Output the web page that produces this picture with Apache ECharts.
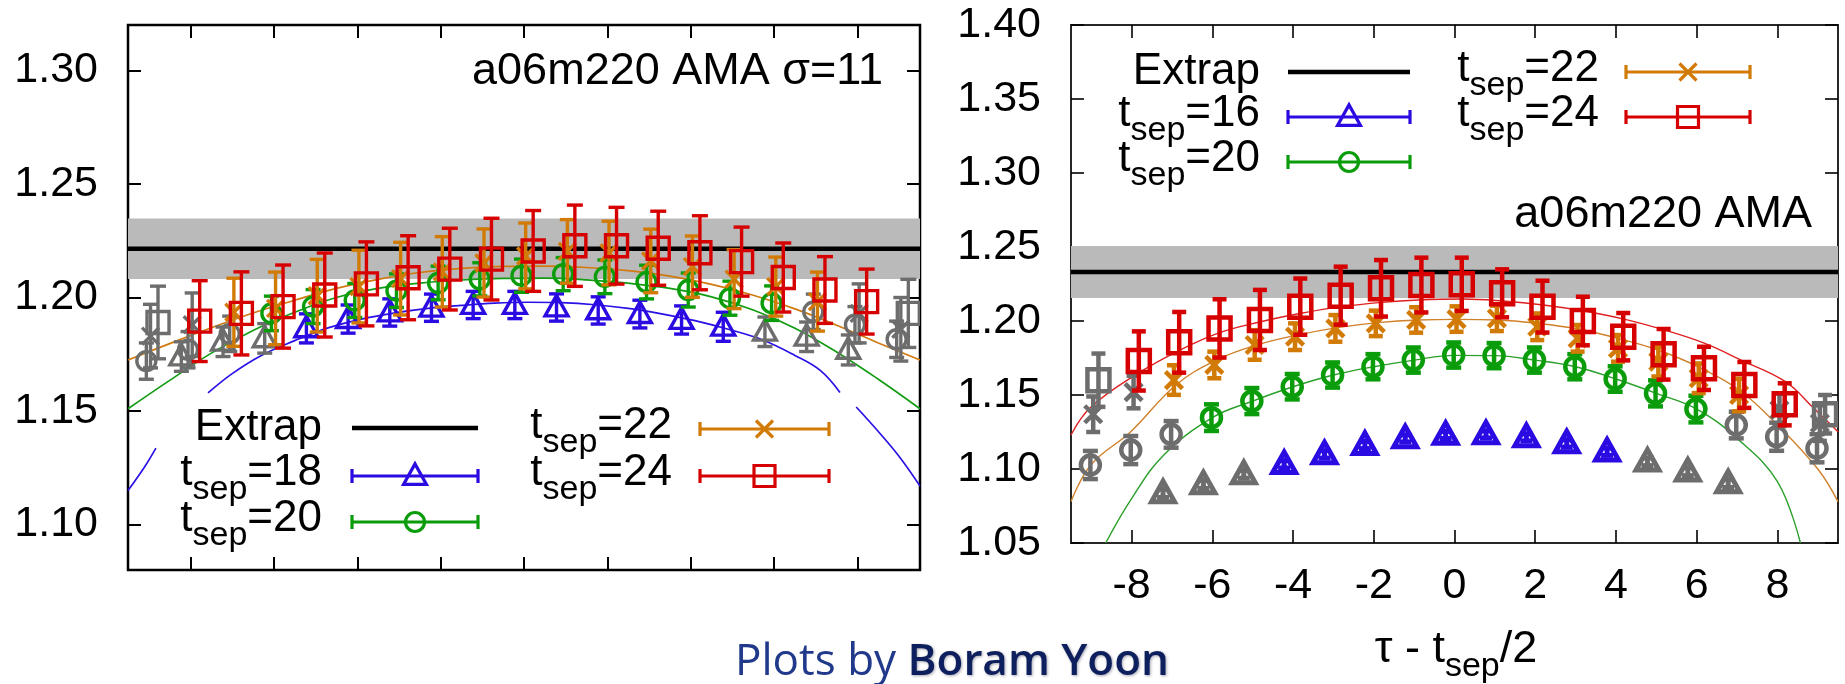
<!DOCTYPE html>
<html>
<head>
<meta charset="utf-8">
<script src="https://cdn.jsdelivr.net/npm/echarts@6/dist/echarts.min.js"></script>
<style>
  html, body { margin: 0; padding: 0; background: #fff; }
  #chart { width: 1845px; height: 684px; }
</style>
</head>
<body>
<div id="chart"></div>
<script>
// ---------------- data ----------------
// x = tau - t_sep/2, y = ratio; points with |tau| <= fit range are coloured, others grey

// left panel: a06m220 AMA sigma=11
const L_ticksX = [-8, -6, -4, -2, 0, 2, 4, 6, 8];
const L_ticksY = [1.10, 1.15, 1.20, 1.25, 1.30];
const L_extrap = [1.2215, 0.0133];           // value, error

const L18_tau = [-8, -7, -6, -5, -4, -3, -2, -1, 0, 1, 2, 3, 4, 5, 6, 7, 8];
const L18_val = [1.174, 1.1805, 1.182, 1.1864, 1.1905, 1.1934, 1.1955, 1.1967, 1.1967, 1.1956, 1.1943, 1.1927, 1.1901, 1.1871, 1.1849, 1.1827, 1.1769];
const L18_err = [0.0065, 0.0065, 0.0065, 0.0064, 0.0062, 0.006, 0.006, 0.006, 0.006, 0.006, 0.006, 0.0061, 0.0062, 0.0064, 0.0065, 0.0065, 0.0066];
const L18_fit = 5;

const L20_tau = [-9, -8, -7, -6, -5, -4, -3, -2, -1, 0, 1, 2, 3, 4, 5, 6, 7, 8, 9];
const L20_val = [1.172, 1.177, 1.184, 1.193, 1.196, 1.1987, 1.203, 1.2064, 1.208, 1.2096, 1.2103, 1.2091, 1.2068, 1.2033, 1.1997, 1.1975, 1.1937, 1.188, 1.1816];
const L20_err = [0.008, 0.008, 0.0078, 0.0076, 0.0075, 0.0075, 0.0074, 0.0074, 0.0073, 0.0073, 0.0073, 0.0074, 0.0074, 0.0075, 0.0075, 0.0076, 0.0078, 0.008, 0.008];
const L20_fit = 6;

const L22_tau = [-9, -8, -7, -6, -5, -4, -3, -2, -1, 0, 1, 2, 3, 4, 5, 6, 7, 8, 9];
const L22_val = [1.183, 1.188, 1.1935, 1.1952, 1.2008, 1.2048, 1.2083, 1.2113, 1.2152, 1.2183, 1.2203, 1.2196, 1.2161, 1.2136, 1.2081, 1.2048, 1.1982, 1.193, 1.186];
const L22_err = [0.014, 0.014, 0.015, 0.016, 0.016, 0.016, 0.016, 0.0155, 0.015, 0.0145, 0.014, 0.014, 0.014, 0.0135, 0.013, 0.013, 0.013, 0.013, 0.014];
const L22_fit = 7;

const L24_tau = [-9, -8, -7, -6, -5, -4, -3, -2, -1, 0, 1, 2, 3, 4, 5, 6, 7, 8, 9];
const L24_val = [1.189, 1.1896, 1.193, 1.196, 1.2011, 1.206, 1.2087, 1.2125, 1.2169, 1.2205, 1.2228, 1.2228, 1.2217, 1.2197, 1.2158, 1.2088, 1.2033, 1.1982, 1.193];
const L24_err = [0.016, 0.0178, 0.0183, 0.0183, 0.0185, 0.0185, 0.0185, 0.018, 0.018, 0.0178, 0.0179, 0.0169, 0.0163, 0.0163, 0.0152, 0.0152, 0.0147, 0.0143, 0.015];
const L24_fit = 8;

// fit curves (left)
const L_fitX = [-9.5, -8.5, -7.5, -6.5, -5.5, -4.5, -3.5, -2.5, -1.5, -0.5, 0.5, 1.5, 2.5, 3.5, 4.5, 5.5, 6.5, 7.5, 8.5, 9.5];
const L_fit22 = [1.1725, 1.1797, 1.1867, 1.1932, 1.1988, 1.2040, 1.2080, 1.2110, 1.2128, 1.2137, 1.2138, 1.2132, 1.2118, 1.2094, 1.2058, 1.2010, 1.1950, 1.1878, 1.1800, 1.1725];
const L_fit20 = [1.151, 1.1635, 1.1755, 1.1855, 1.1935, 1.2000, 1.2040, 1.2063, 1.2077, 1.2084, 1.2085, 1.2078, 1.2063, 1.2040, 1.2003, 1.1945, 1.1865, 1.1760, 1.1640, 1.151];
const L_fit18X = [-9.5, -9.1, -8.83, -8.2, -7.58, -7.0, -6.3, -5.5, -4.7, -3.9, -3.1, -2.3, -1.5, -0.7, 0.1, 0.9, 1.7, 2.5, 3.3, 4.1, 4.9, 5.7, 6.5, 7.1, 7.58, 7.8, 7.97, 8.5, 9.0, 9.5];
const L_fit18 = [1.115, 1.1255, 1.1337, null, 1.1580, 1.1665, 1.1745, 1.1810, 1.1866, 1.1905, 1.1932, 1.1952, 1.1965, 1.1975, 1.1979, 1.1977, 1.1968, 1.1952, 1.1928, 1.1898, 1.1860, 1.1815, 1.1745, 1.1680, 1.1582, null, 1.1518, 1.1410, 1.1300, 1.117];

// right panel: a06m220 AMA
const R_ticksX = [-8, -6, -4, -2, 0, 2, 4, 6, 8];
const R_ticksY = [1.05, 1.10, 1.15, 1.20, 1.25, 1.30, 1.35, 1.40];
const R_extrap = [1.2331, 0.0176];

const R16_tau = [-7, -6, -5, -4, -3, -2, -1, 0, 1, 2, 3, 4, 5, 6, 7];
const R16_val = [1.0836, 1.0896, 1.0964, 1.1032, 1.1099, 1.1162, 1.1207, 1.1230, 1.1234, 1.1214, 1.1173, 1.1117, 1.1049, 1.0982, 1.0903];
const R16_err = [0.0028, 0.0027, 0.0026, 0.0025, 0.0025, 0.0024, 0.0024, 0.0024, 0.0024, 0.0024, 0.0025, 0.0025, 0.0026, 0.0027, 0.0028];
const R16_fit = 4;

const R20_tau = [-9, -8, -7, -6, -5, -4, -3, -2, -1, 0, 1, 2, 3, 4, 5, 6, 7, 8, 9];
const R20_val = [1.1027, 1.1128, 1.1234, 1.1347, 1.1459, 1.1556, 1.1635, 1.1691, 1.1736, 1.1770, 1.1766, 1.1736, 1.1691, 1.1608, 1.1511, 1.1405, 1.1297, 1.1218, 1.1140];
const R20_err = [0.0095, 0.0095, 0.009, 0.009, 0.0088, 0.0086, 0.0085, 0.0085, 0.0085, 0.0085, 0.0085, 0.0085, 0.0085, 0.0086, 0.0088, 0.009, 0.009, 0.0095, 0.0095];
const R20_fit = 6;

const R22_tau = [-9, -8, -7, -6, -5, -4, -3, -2, -1, 0, 1, 2, 3, 4, 5, 6, 7, 8, 9];
const R22_val = [1.137, 1.152, 1.1601, 1.1703, 1.1838, 1.1894, 1.1950, 1.1984, 1.2007, 1.2013, 1.2018, 1.1961, 1.1883, 1.1815, 1.1725, 1.1613, 1.1500, 1.1400, 1.1310];
const R22_err = [0.012, 0.011, 0.010, 0.009, 0.010, 0.009, 0.009, 0.0086, 0.0086, 0.0086, 0.0086, 0.009, 0.009, 0.009, 0.010, 0.010, 0.011, 0.011, 0.012];
const R22_fit = 7;

const R24_tau = [-9, -8, -7, -6, -5, -4, -3, -2, -1, 0, 1, 2, 3, 4, 5, 6, 7, 8, 9];
const R24_val = [1.160, 1.173, 1.1856, 1.1950, 1.2007, 1.2097, 1.2171, 1.2221, 1.2243, 1.2248, 1.2187, 1.2097, 1.2000, 1.1894, 1.1775, 1.1680, 1.1568, 1.1437, 1.1370];
const R24_err = [0.018, 0.020, 0.0205, 0.0197, 0.0203, 0.019, 0.0196, 0.0191, 0.0185, 0.018, 0.0162, 0.0175, 0.0164, 0.016, 0.0171, 0.0146, 0.0155, 0.0142, 0.013];
const R24_fit = 8;

// fit curves (right)
const R_fit24X = [-9.5, -9.0, -7.82, -6.8, -5.8, -4.8, -3.8, -2.8, -1.8, -0.9, 0.2, 1.2, 2.2, 3.2, 4.2, 5.2, 6.2, 7.1, 8.2, 8.9, 9.5];
const R_fit24 = [1.123, 1.142, 1.165, 1.1804, 1.1923, 1.1995, 1.2052, 1.2097, 1.2126, 1.2142, 1.2149, 1.2135, 1.2108, 1.2068, 1.2013, 1.1939, 1.1849, 1.1736, 1.159, 1.141, 1.1252];
const R_fit22X = [-9.5, -9.0, -8.02, -6.9, -5.9, -4.9, -3.9, -2.9, -1.9, -0.9, 0.07, 1.08, 2.07, 3.05, 4.05, 5.04, 6.03, 7.05, 8.0, 9.0, 9.5];
const R_fit22 = [1.078, 1.103, 1.1252, 1.1568, 1.1736, 1.1838, 1.1905, 1.1955, 1.1989, 1.2007, 1.2011, 1.2007, 1.1984, 1.1946, 1.1883, 1.1804, 1.1691, 1.1534, 1.1297, 1.100, 1.078];
const R_fit20X = [-8.64, -8.0, -7.2, -6.0, -5.0, -4.0, -3.0, -2.0, -1.0, 0, 1, 2, 3, 4, 5, 6, 7, 8, 8.57];
const R_fit20 = [1.05, 1.080, 1.1095, 1.1347, 1.1459, 1.1556, 1.1635, 1.1691, 1.1736, 1.1768, 1.1766, 1.1736, 1.1691, 1.1608, 1.1511, 1.1405, 1.1207, 1.0914, 1.05];

// ---------------- styling ----------------
const FONT = '"Liberation Sans", Arial, Helvetica, sans-serif';
const GRAY = '#6d6d6d';
const BLUE = '#2a0be2';
const GREEN = '#0a9c0a';
const ORANGE = '#d27a06';
const RED = '#d60000';
const X_MIN = -9.5, X_MAX = 9.5;

function marker(shape, cx, cy, s, st) {
  if (shape === 'tri') {
    return { type: 'polygon', shape: { points: [[cx, cy - s * 0.55], [cx - s * 0.52, cy + s * 0.38], [cx + s * 0.52, cy + s * 0.38]] }, style: st };
  }
  if (shape === 'circ') {
    return { type: 'circle', shape: { cx: cx, cy: cy, r: s / 2 }, style: st };
  }
  if (shape === 'sq') {
    return { type: 'rect', shape: { x: cx - s / 2, y: cy - s / 2, width: s, height: s }, style: st };
  }
  const h = s / 2;
  return { type: 'group', children: [
    { type: 'line', shape: { x1: cx - h, y1: cy - h, x2: cx + h, y2: cy + h }, style: st },
    { type: 'line', shape: { x1: cx - h, y1: cy + h, x2: cx + h, y2: cy - h }, style: st }
  ] };
}

// points with vertical error bars, drawn through the axis scales
function pointSeries(panel, tau, val, err, fitMax, shift, color, shape, size, lw, capW, z) {
  return {
    type: 'custom',
    xAxisIndex: panel * 2,
    yAxisIndex: panel * 2,
    z: z,
    clip: true,
    data: tau.map((t, i) => [t + shift, val[i], err[i], Math.abs(t) <= fitMax ? 1 : 0]),
    encode: { x: 0, y: 1 },
    renderItem: function (params, api) {
      const x = api.value(0), y = api.value(1), e = api.value(2);
      const c = api.value(3) ? color : GRAY;
      const p = api.coord([x, y]);
      const hi = api.coord([x, y + e])[1];
      const lo = api.coord([x, y - e])[1];
      const st = { stroke: c, lineWidth: lw, fill: 'none' };
      return {
        type: 'group',
        children: [
          { type: 'line', shape: { x1: p[0], y1: hi, x2: p[0], y2: lo }, style: st },
          { type: 'line', shape: { x1: p[0] - capW / 2, y1: hi, x2: p[0] + capW / 2, y2: hi }, style: st },
          { type: 'line', shape: { x1: p[0] - capW / 2, y1: lo, x2: p[0] + capW / 2, y2: lo }, style: st },
          marker(shape, p[0], p[1], size, st)
        ]
      };
    }
  };
}

// extrapolated value: grey error band with the central line
function extrapSeries(panel, ex, lw) {
  return {
    type: 'custom',
    xAxisIndex: panel * 2,
    yAxisIndex: panel * 2,
    z: 1,
    clip: true,
    data: [[0, ex[0], ex[1]]],
    renderItem: function (params, api) {
      const v = api.value(1), e = api.value(2);
      const a = api.coord([X_MIN, v + e]);
      const b = api.coord([X_MAX, v - e]);
      const m = api.coord([X_MIN, v]);
      const n = api.coord([X_MAX, v]);
      return {
        type: 'group',
        children: [
          { type: 'rect', shape: { x: a[0], y: a[1], width: b[0] - a[0], height: b[1] - a[1] }, style: { fill: '#bababa' } },
          { type: 'line', shape: { x1: m[0], y1: m[1], x2: n[0], y2: n[1] }, style: { stroke: '#000', lineWidth: lw } }
        ]
      };
    }
  };
}

function curve(panel, xs, ys, color, width) {
  return {
    type: 'line',
    xAxisIndex: panel * 2,
    yAxisIndex: panel * 2,
    z: 3,
    smooth: 0.4,
    showSymbol: false,
    symbol: 'none',
    connectNulls: false,
    clip: true,
    silent: true,
    lineStyle: { color: color, width: width },
    data: xs.map((x, i) => [x, ys[i]])
  };
}

function xAxisPair(grid, ticks, showLabels, tickW) {
  const base = {
    type: 'value', gridIndex: grid, min: X_MIN, max: X_MAX,
    axisLine: { show: false, onZero: false }, splitLine: { show: false },
    axisTick: { show: true, inside: true, length: 13, customValues: ticks, lineStyle: { color: '#000', width: tickW } }
  };
  return [
    Object.assign({}, base, { position: 'bottom',
      axisLabel: { show: showLabels, customValues: ticks, formatter: v => String(v), fontFamily: FONT, fontSize: 43, color: '#000', margin: 22 } }),
    Object.assign({}, base, { position: 'top', axisLabel: { show: false, customValues: ticks } })
  ];
}

function yAxisPair(grid, ticks, min, max, tickW) {
  const base = {
    type: 'value', gridIndex: grid, min: min, max: max,
    axisLine: { show: false, onZero: false }, splitLine: { show: false },
    axisTick: { show: true, inside: true, length: 13, customValues: ticks, lineStyle: { color: '#000', width: tickW } }
  };
  return [
    Object.assign({}, base, { position: 'left',
      axisLabel: { show: true, customValues: ticks, formatter: v => v.toFixed(2), fontFamily: FONT, fontSize: 43, color: '#000', margin: 30 } }),
    Object.assign({}, base, { position: 'right', axisLabel: { show: false, customValues: ticks } })
  ];
}

// key entries
function keyText(x, y, main, sub, tail) {
  if (!sub) {
    return { type: 'text', z: 60, style: { text: main, x: x, y: y, align: 'right', verticalAlign: 'middle', font: '44px ' + FONT, fill: '#000' } };
  }
  return {
    type: 'text', z: 60,
    style: {
      text: '{m|' + main + '}{s|' + sub + '}{m|' + tail + '}',
      x: x, y: y, align: 'right', verticalAlign: 'middle',
      rich: {
        m: { fontSize: 44, fontFamily: FONT, fill: '#000' },
        s: { fontSize: 34, fontFamily: FONT, fill: '#000', padding: [34, 0, 0, 0] }
      }
    }
  };
}

function keySample(x1, x2, y, color, shape, size, lw) {
  const st = { stroke: color, lineWidth: lw, fill: 'none' };
  const out = [{ type: 'line', z: 60, shape: { x1: x1, y1: y, x2: x2, y2: y }, style: st }];
  if (shape) {
    out.push({ type: 'line', z: 60, shape: { x1: x1, y1: y - 7, x2: x1, y2: y + 7 }, style: st });
    out.push({ type: 'line', z: 60, shape: { x1: x2, y1: y - 7, x2: x2, y2: y + 7 }, style: st });
    const mk = marker(shape, (x1 + x2) / 2, y, size, st);
    mk.z = 61;
    out.push(mk);
  }
  return out;
}

const graphics = [].concat(
  // left key
  [keyText(322, 428, 'Extrap')], keySample(352, 478, 428, '#000', null, 0, 4.5),
  [keyText(322, 473, 't', 'sep', '=18')], keySample(352, 478, 476, BLUE, 'tri', 22, 3.2),
  [keyText(322, 519, 't', 'sep', '=20')], keySample(352, 478, 522, GREEN, 'circ', 19, 3.2),
  [keyText(672, 426, 't', 'sep', '=22')], keySample(700, 829, 429, ORANGE, 'x', 17, 3.2),
  [keyText(672, 473, 't', 'sep', '=24')], keySample(700, 829, 476, RED, 'sq', 21, 3.2),
  // right key
  [keyText(1260, 72, 'Extrap')], keySample(1288, 1410, 72, '#000', null, 0, 4.5),
  [keyText(1260, 114, 't', 'sep', '=16')], keySample(1288, 1410, 117, BLUE, 'tri', 22, 3.2),
  [keyText(1260, 159, 't', 'sep', '=20')], keySample(1288, 1410, 162, GREEN, 'circ', 19, 3.2),
  [keyText(1599, 69, 't', 'sep', '=22')], keySample(1626, 1750, 72, ORANGE, 'x', 17, 3.2),
  [keyText(1599, 114, 't', 'sep', '=24')], keySample(1626, 1750, 117, RED, 'sq', 21, 3.2),
  [
    { type: 'text', z: 60, style: { text: 'a06m220 AMA σ=11', x: 883, y: 72, align: 'right', verticalAlign: 'middle', font: '45px ' + FONT, fill: '#000' } },
    { type: 'text', z: 60, style: { text: 'a06m220 AMA', x: 1812, y: 215, align: 'right', verticalAlign: 'middle', font: '45px ' + FONT, fill: '#000' } },
    {
      type: 'text', z: 60,
      style: {
        text: '{m|τ - t}{s|sep}{m|/2}', x: 1456, y: 650, align: 'center', verticalAlign: 'middle',
        rich: {
          m: { fontSize: 45, fontFamily: FONT, fill: '#000' },
          s: { fontSize: 34, fontFamily: FONT, fill: '#000', padding: [34, 0, 0, 0] }
        }
      }
    },
    {
      type: 'text', z: 60,
      style: {
        text: '{a|Plots by }{b|Boram Yoon}', x: 735, y: 662, align: 'left', verticalAlign: 'middle',
        rich: {
          a: { fontSize: 44, fontFamily: '"Open Sans", sans-serif', fill: '#20398a' },
          b: { fontSize: 44, fontFamily: '"Open Sans", sans-serif', fontWeight: 600, fill: '#0e1f5e',
               textShadowColor: 'rgba(0,0,40,0.35)', textShadowBlur: 3, textShadowOffsetX: 1, textShadowOffsetY: 1 }
        }
      }
    }
  ]
);

const option = {
  backgroundColor: '#ffffff',
  animation: false,
  grid: [
    { left: 128, top: 25, width: 792, height: 545, show: true, borderColor: '#000', borderWidth: 2.5, backgroundColor: 'transparent' },
    { left: 1071, top: 25, width: 767, height: 518, show: true, borderColor: '#262626', borderWidth: 2, backgroundColor: 'transparent' }
  ],
  xAxis: [].concat(xAxisPair(0, L_ticksX, false, 2), xAxisPair(1, R_ticksX, true, 1.6)),
  yAxis: [].concat(yAxisPair(0, L_ticksY, 1.08, 1.32, 2), yAxisPair(1, R_ticksY, 1.05, 1.40, 1.6)),
  series: [
    // left panel
    extrapSeries(0, L_extrap, 4.5),
    curve(0, L_fitX, L_fit22, '#d07a10', 1.7),
    curve(0, L_fitX, L_fit20, '#139c13', 1.7),
    curve(0, L_fit18X, L_fit18, '#2a12e6', 1.7),
    pointSeries(0, L18_tau, L18_val, L18_err, L18_fit, -0.22, BLUE, 'tri', 22, 3.4, 15, 5),
    pointSeries(0, L20_tau, L20_val, L20_err, L20_fit, -0.06, GREEN, 'circ', 19, 3.4, 15, 6),
    pointSeries(0, L22_tau, L22_val, L22_err, L22_fit, 0.04, ORANGE, 'x', 17, 3.4, 15, 7),
    pointSeries(0, L24_tau, L24_val, L24_err, L24_fit, 0.22, RED, 'sq', 22, 3.4, 16, 8),
    // right panel
    extrapSeries(1, R_extrap, 4.5),
    curve(1, R_fit24X, R_fit24, '#e02020', 1.4),
    curve(1, R_fit22X, R_fit22, '#d0802a', 1.4),
    curve(1, R_fit20X, R_fit20, '#2a9f2a', 1.4),
    pointSeries(1, R16_tau, R16_val, R16_err, R16_fit, -0.22, BLUE, 'tri', 22, 5, 12, 5),
    pointSeries(1, R20_tau, R20_val, R20_err, R20_fit, -0.02, GREEN, 'circ', 19, 4.5, 15, 6),
    pointSeries(1, R22_tau, R22_val, R22_err, R22_fit, 0.05, ORANGE, 'x', 17, 4.5, 14, 7),
    pointSeries(1, R24_tau, R24_val, R24_err, R24_fit, 0.18, RED, 'sq', 22, 4.5, 14, 8)
  ],
  graphic: { elements: graphics }
};

const chart = echarts.init(document.getElementById('chart'));
chart.setOption(option);
</script>
</body>
</html>
